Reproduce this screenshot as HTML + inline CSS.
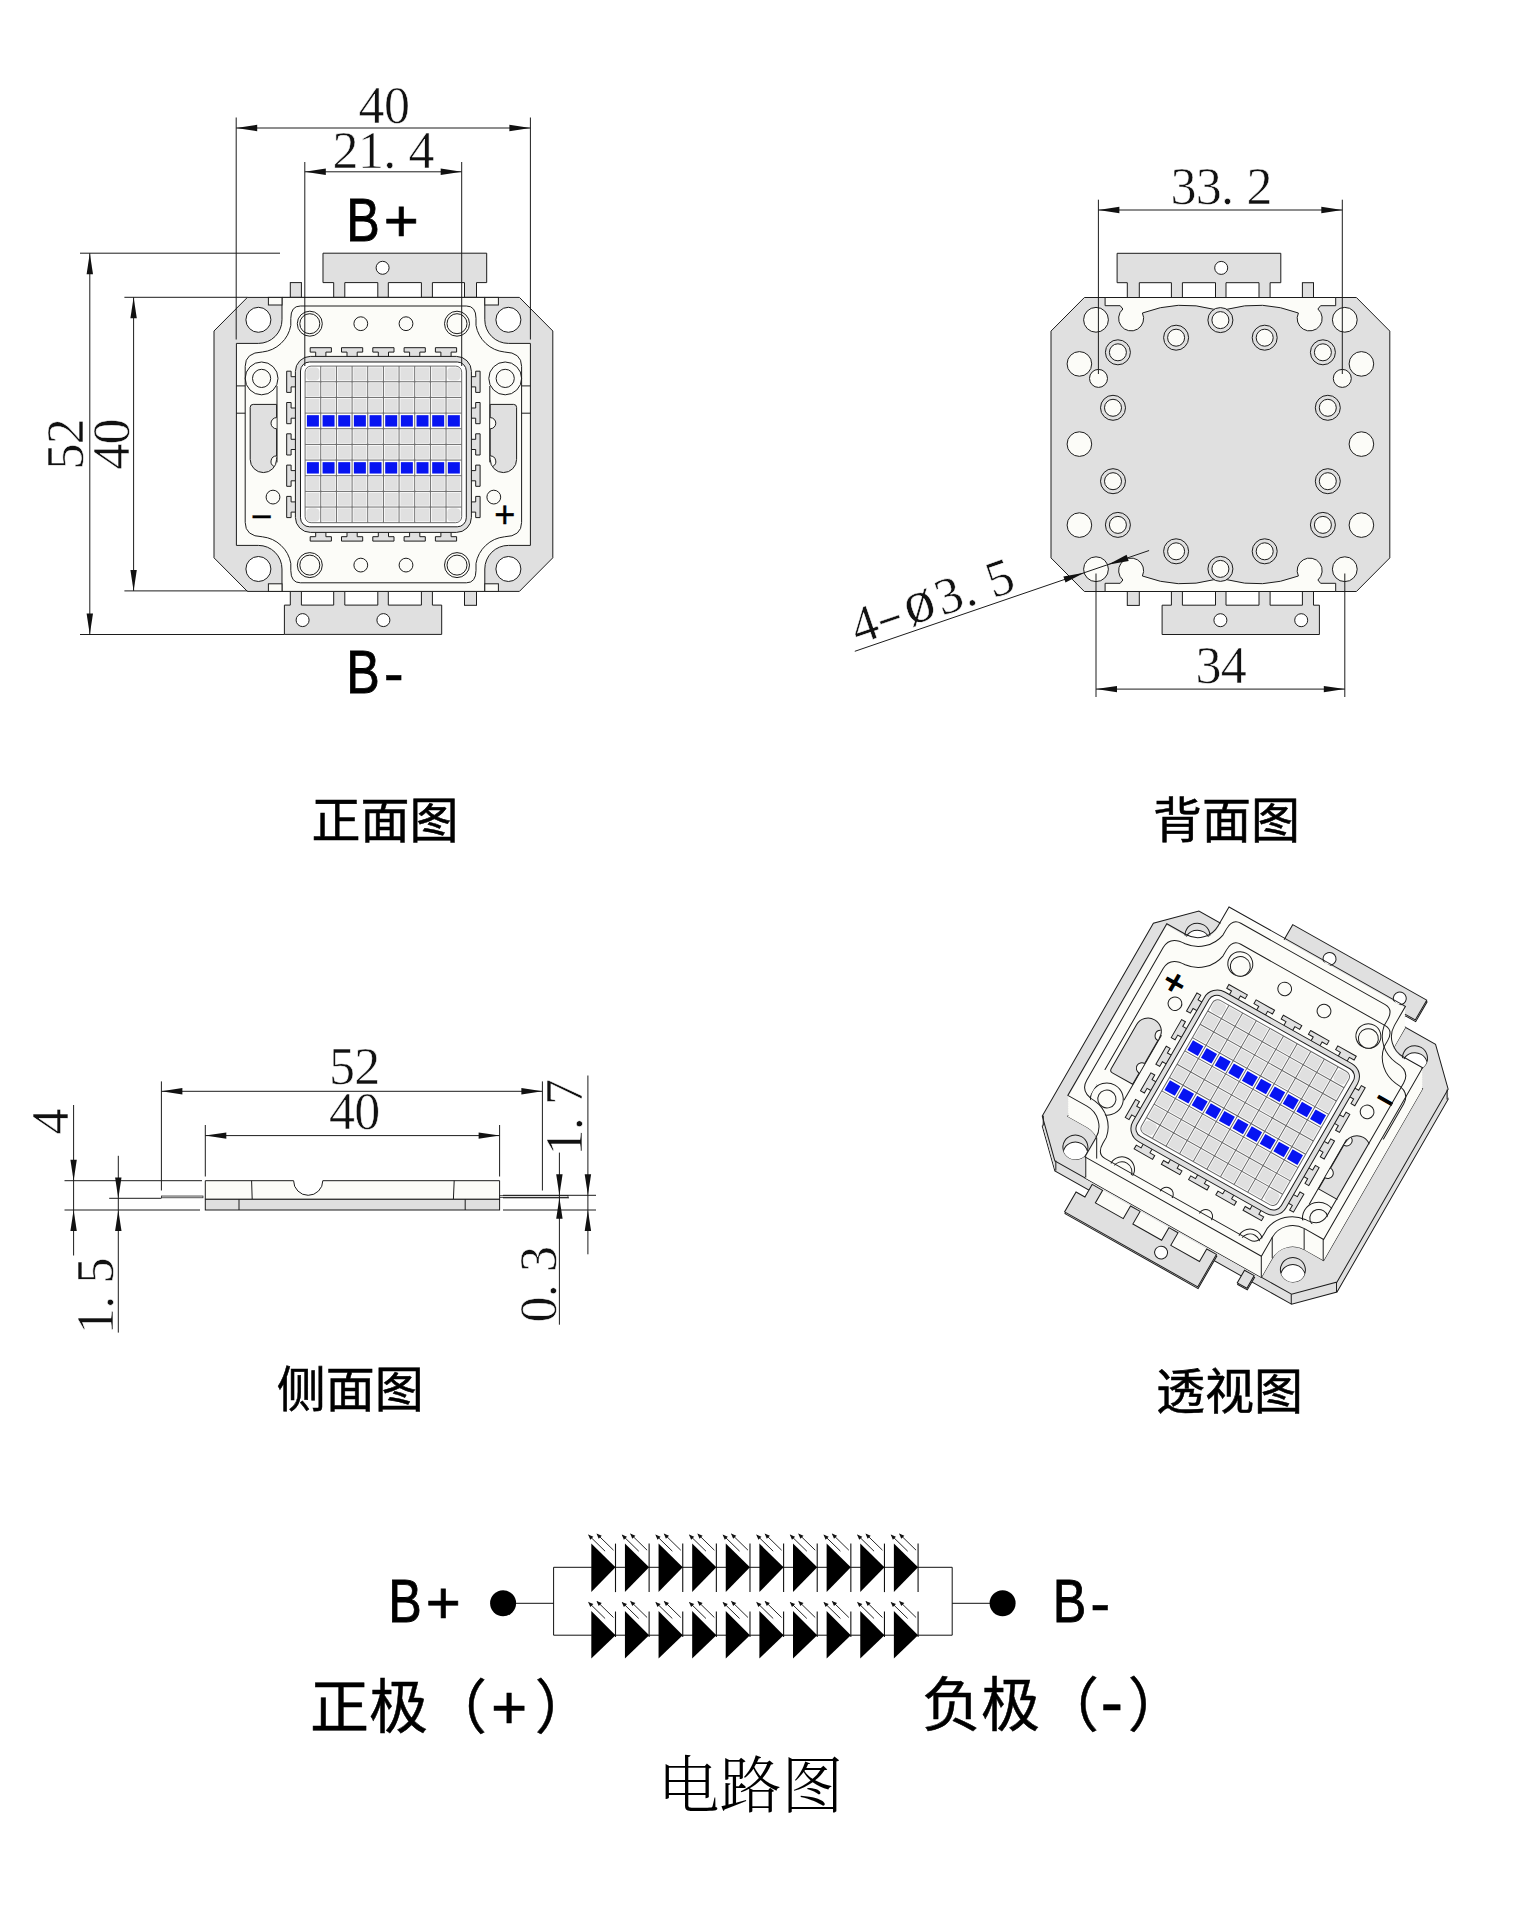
<!DOCTYPE html>
<html lang="zh"><head><meta charset="utf-8"><title>LED COB drawing</title>
<style>html,body{margin:0;padding:0;background:#fff}svg{display:block}</style></head>
<body>
<svg width="1517" height="1920" viewBox="0 0 1517 1920">
<rect width="1517" height="1920" fill="#fff"/>
<defs>
<g id="chiptabs">
<polygon points="-60.4,-191.2 103.3,-191.2 103.3,-161.8 93.1,-161.8 93.1,-147 81.1,-147 81.1,-161.8 49,-161.8 49,-147 38,-147 38,-161.8 4.9,-161.8 4.9,-147 -5.6,-147 -5.6,-161.8 -38.6,-161.8 -38.6,-147 -49.7,-147 -49.7,-161.8 -60.4,-161.8" fill="#e0e0e0" stroke="#1c1c1c" stroke-width="1" />
<circle cx="-0.8" cy="-176.6" r="6.5" fill="#fff" stroke="#1c1c1c" stroke-width="1"/>
<rect x="-93.1" y="-161.8" width="11.1" height="14.8" fill="#e0e0e0" stroke="#1c1c1c" stroke-width="1"/>
<polygon points="-99,190 58.3,190 58.3,160.7 49,160.7 49,147 38,147 38,160.7 4.9,160.7 4.9,147 -5.6,147 -5.6,160.7 -38.6,160.7 -38.6,147 -49.7,147 -49.7,160.7 -82,160.7 -82,147 -93.1,147 -93.1,160.7 -99,160.7" fill="#e0e0e0" stroke="#1c1c1c" stroke-width="1" />
<circle cx="-80.8" cy="175.7" r="6.5" fill="#fff" stroke="#1c1c1c" stroke-width="1"/>
<circle cx="0" cy="175.7" r="6.5" fill="#fff" stroke="#1c1c1c" stroke-width="1"/>
<rect x="81.1" y="147" width="12" height="13.9" fill="#e0e0e0" stroke="#1c1c1c" stroke-width="1"/>
</g>
<g id="chiptabsP">
<rect x="-49.7" y="-161.8" width="142.8" height="15" fill="#fcfcf8"/>
<polygon points="-49.7,-185.2 103.3,-185.2 103.3,-161.8 93.1,-161.8 93.1,-147 81.1,-147 81.1,-161.8 49,-161.8 49,-147 38,-147 38,-161.8 4.9,-161.8 4.9,-147 -5.6,-147 -5.6,-161.8 -38.6,-161.8 -38.6,-147 -49.7,-147 -49.7,-161.8 -49.7,-161.8" fill="#e0e0e0" stroke="#1c1c1c" stroke-width="1" />
<circle cx="-0.8" cy="-173" r="6.5" fill="#fff" stroke="#1c1c1c" stroke-width="1"/>
<rect x="-93.1" y="-161.8" width="11.1" height="14.8" fill="#e0e0e0" stroke="#1c1c1c" stroke-width="1"/>
<polygon points="-105,184 49,184 49,160.7 49,160.7 49,147 38,147 38,160.7 4.9,160.7 4.9,147 -5.6,147 -5.6,160.7 -38.6,160.7 -38.6,147 -49.7,147 -49.7,160.7 -82,160.7 -82,147 -93.1,147 -93.1,160.7 -105,160.7" fill="#e0e0e0" stroke="#1c1c1c" stroke-width="1" />
<circle cx="-80.8" cy="172.1" r="6.5" fill="#fff" stroke="#1c1c1c" stroke-width="1"/>
<circle cx="0" cy="172.1" r="6.5" fill="#fff" stroke="#1c1c1c" stroke-width="1"/>
<rect x="81.1" y="147" width="12" height="13.9" fill="#e0e0e0" stroke="#1c1c1c" stroke-width="1"/>
</g>
<g id="chipbase">
<polygon points="-136,-147 136,-147 169.4,-113.4 169.4,113.4 136,147 -136,147 -169.4,113.4 -169.4,-113.4" fill="#e0e0e0" stroke="#1c1c1c" stroke-width="1" />
</g>
<g id="chipframe">
<path d="M-101.4 -147 H101.4 V-124.6 A23.6 23.6 0 0 0 125 -101 H147 V101 H125 A23.6 23.6 0 0 0 101.4 124.6 V147 H-101.4 V124.6 A23.6 23.6 0 0 0 -125 101 H-147 V-101 H-125 A23.6 23.6 0 0 0 -101.4 -124.6 Z" fill="#fcfcf8" stroke="#1c1c1c" stroke-width="1" />
<rect x="-115" y="-147" width="13.6" height="7.6" fill="#fcfcf8" stroke="#1c1c1c" stroke-width="1"/>
<rect x="-115" y="139.4" width="13.6" height="7.6" fill="#fcfcf8" stroke="#1c1c1c" stroke-width="1"/>
<rect x="101.4" y="-147" width="13.6" height="7.6" fill="#fcfcf8" stroke="#1c1c1c" stroke-width="1"/>
<rect x="101.4" y="139.4" width="13.6" height="7.6" fill="#fcfcf8" stroke="#1c1c1c" stroke-width="1"/>
</g>
<g id="chipholes">
<circle cx="-125" cy="-124.6" r="12.5" fill="#fff" stroke="#1c1c1c" stroke-width="1"/>
<circle cx="-125" cy="124.6" r="12.5" fill="#fff" stroke="#1c1c1c" stroke-width="1"/>
<circle cx="125" cy="-124.6" r="12.5" fill="#fff" stroke="#1c1c1c" stroke-width="1"/>
<circle cx="125" cy="124.6" r="12.5" fill="#fff" stroke="#1c1c1c" stroke-width="1"/>
</g>
<g id="chipinner">
<path d="M-83 -138.4 L83 -138.4 Q92.6 -138.4 92.6 -126 L92.6 -119 A32.5 32.5 0 0 0 121 -92.4 Q138.2 -92 138.2 -78 L138.2 78 Q138.2 92 121 92.4 A32.5 32.5 0 0 0 92.6 119 L92.6 126 Q92.6 138.4 83 138.4 L-83 138.4 Q-92.6 138.4 -92.6 126 L-92.6 119 A32.5 32.5 0 0 0 -121 92.4 Q-138.2 92 -138.2 78 L-138.2 -78 Q-138.2 -92 -121 -92.4 A32.5 32.5 0 0 0 -92.6 -119 L-92.6 -126 Q-92.6 -138.4 -83 -138.4 Z" fill="none" stroke="#1c1c1c" stroke-width="1" />
</g>
<g id="chipfloor">
<circle cx="-73.6" cy="-120.7" r="12.5" fill="#fcfcf8" stroke="#1c1c1c" stroke-width="1"/>
<circle cx="-73.6" cy="-120.7" r="10" fill="#fcfcf8" stroke="#1c1c1c" stroke-width="1"/>
<circle cx="-22.6" cy="-120.7" r="6.9" fill="#fcfcf8" stroke="#1c1c1c" stroke-width="1"/>
<circle cx="73.6" cy="-120.7" r="12.5" fill="#fcfcf8" stroke="#1c1c1c" stroke-width="1"/>
<circle cx="73.6" cy="-120.7" r="10" fill="#fcfcf8" stroke="#1c1c1c" stroke-width="1"/>
<circle cx="22.6" cy="-120.7" r="6.9" fill="#fcfcf8" stroke="#1c1c1c" stroke-width="1"/>
<circle cx="-73.6" cy="120.7" r="12.5" fill="#fcfcf8" stroke="#1c1c1c" stroke-width="1"/>
<circle cx="-73.6" cy="120.7" r="10" fill="#fcfcf8" stroke="#1c1c1c" stroke-width="1"/>
<circle cx="-22.6" cy="120.7" r="6.9" fill="#fcfcf8" stroke="#1c1c1c" stroke-width="1"/>
<circle cx="73.6" cy="120.7" r="12.5" fill="#fcfcf8" stroke="#1c1c1c" stroke-width="1"/>
<circle cx="73.6" cy="120.7" r="10" fill="#fcfcf8" stroke="#1c1c1c" stroke-width="1"/>
<circle cx="22.6" cy="120.7" r="6.9" fill="#fcfcf8" stroke="#1c1c1c" stroke-width="1"/>
<circle cx="-121.8" cy="-66" r="16.4" fill="none" stroke="#1c1c1c" stroke-width="1"/>
<circle cx="-121.8" cy="-66" r="9.1" fill="#fcfcf8" stroke="#1c1c1c" stroke-width="1"/>
<line x1="-106.4" y1="-58.5" x2="-106.4" y2="18" stroke="#1c1c1c" stroke-width="1"/>
<line x1="-147" y1="-58.5" x2="-138.2" y2="-58.5" stroke="#1c1c1c" stroke-width="1"/>
<line x1="-147" y1="-31.2" x2="-138.2" y2="-31.2" stroke="#1c1c1c" stroke-width="1"/>
<path d="M-130.2 -40 H-106.8 V15 A13.2 13.2 0 0 1 -133.2 15 V-37 Q-133.2 -40 -130.2 -40 Z" fill="#e0e0e0" stroke="#1c1c1c" stroke-width="1" />
<path d="M-106.8 -26.8 A5.6 5.6 0 0 0 -106.8 -15.6" fill="#fcfcf8" stroke="#1c1c1c" stroke-width="1" />
<path d="M-106.8 11.5 A5.6 5.6 0 0 0 -109.5 22" fill="#fcfcf8" stroke="#1c1c1c" stroke-width="1" />
<circle cx="-110.4" cy="52.7" r="6.9" fill="#fcfcf8" stroke="#1c1c1c" stroke-width="1"/>
<g transform="scale(-1 1)">
<circle cx="-121.8" cy="-66" r="16.4" fill="none" stroke="#1c1c1c" stroke-width="1"/>
<circle cx="-121.8" cy="-66" r="9.1" fill="#fcfcf8" stroke="#1c1c1c" stroke-width="1"/>
<line x1="-106.4" y1="-58.5" x2="-106.4" y2="18" stroke="#1c1c1c" stroke-width="1"/>
<line x1="-147" y1="-58.5" x2="-138.2" y2="-58.5" stroke="#1c1c1c" stroke-width="1"/>
<line x1="-147" y1="-31.2" x2="-138.2" y2="-31.2" stroke="#1c1c1c" stroke-width="1"/>
<path d="M-130.2 -40 H-106.8 V15 A13.2 13.2 0 0 1 -133.2 15 V-37 Q-133.2 -40 -130.2 -40 Z" fill="#e0e0e0" stroke="#1c1c1c" stroke-width="1" />
<path d="M-106.8 -26.8 A5.6 5.6 0 0 0 -106.8 -15.6" fill="#fcfcf8" stroke="#1c1c1c" stroke-width="1" />
<path d="M-106.8 11.5 A5.6 5.6 0 0 0 -109.5 22" fill="#fcfcf8" stroke="#1c1c1c" stroke-width="1" />
<circle cx="-110.4" cy="52.7" r="6.9" fill="#fcfcf8" stroke="#1c1c1c" stroke-width="1"/>
</g>
<text x="-121.8" y="84.2" text-anchor="middle" font-family="'Liberation Sans', sans-serif" font-size="37" fill="#000" stroke="#000" stroke-width="0.3">&#8722;</text>
<text x="121.4" y="83.1" text-anchor="middle" font-family="'Liberation Sans', sans-serif" font-size="36" fill="#000" stroke="#000" stroke-width="0.45">+</text>
</g>
<g id="chipled">
<polygon transform="translate(-62.6 -88) rotate(0)" points="-10.6,-8.7 10.6,-8.7 10.6,-4.3 5.1,-4.3 5.1,0.6 -5.1,0.6 -5.1,-4.3 -10.6,-4.3" fill="#e0e0e0" stroke="#1c1c1c" stroke-width="1"/>
<polygon transform="translate(-62.6 88) rotate(180)" points="-10.6,-8.7 10.6,-8.7 10.6,-4.3 5.1,-4.3 5.1,0.6 -5.1,0.6 -5.1,-4.3 -10.6,-4.3" fill="#e0e0e0" stroke="#1c1c1c" stroke-width="1"/>
<polygon transform="translate(-88 -62.6) rotate(-90)" points="-10.6,-8.7 10.6,-8.7 10.6,-4.3 5.1,-4.3 5.1,0.6 -5.1,0.6 -5.1,-4.3 -10.6,-4.3" fill="#e0e0e0" stroke="#1c1c1c" stroke-width="1"/>
<polygon transform="translate(88 -62.6) rotate(90)" points="-10.6,-8.7 10.6,-8.7 10.6,-4.3 5.1,-4.3 5.1,0.6 -5.1,0.6 -5.1,-4.3 -10.6,-4.3" fill="#e0e0e0" stroke="#1c1c1c" stroke-width="1"/>
<polygon transform="translate(-31.3 -88) rotate(0)" points="-10.6,-8.7 10.6,-8.7 10.6,-4.3 5.1,-4.3 5.1,0.6 -5.1,0.6 -5.1,-4.3 -10.6,-4.3" fill="#e0e0e0" stroke="#1c1c1c" stroke-width="1"/>
<polygon transform="translate(-31.3 88) rotate(180)" points="-10.6,-8.7 10.6,-8.7 10.6,-4.3 5.1,-4.3 5.1,0.6 -5.1,0.6 -5.1,-4.3 -10.6,-4.3" fill="#e0e0e0" stroke="#1c1c1c" stroke-width="1"/>
<polygon transform="translate(-88 -31.3) rotate(-90)" points="-10.6,-8.7 10.6,-8.7 10.6,-4.3 5.1,-4.3 5.1,0.6 -5.1,0.6 -5.1,-4.3 -10.6,-4.3" fill="#e0e0e0" stroke="#1c1c1c" stroke-width="1"/>
<polygon transform="translate(88 -31.3) rotate(90)" points="-10.6,-8.7 10.6,-8.7 10.6,-4.3 5.1,-4.3 5.1,0.6 -5.1,0.6 -5.1,-4.3 -10.6,-4.3" fill="#e0e0e0" stroke="#1c1c1c" stroke-width="1"/>
<polygon transform="translate(0 -88) rotate(0)" points="-10.6,-8.7 10.6,-8.7 10.6,-4.3 5.1,-4.3 5.1,0.6 -5.1,0.6 -5.1,-4.3 -10.6,-4.3" fill="#e0e0e0" stroke="#1c1c1c" stroke-width="1"/>
<polygon transform="translate(0 88) rotate(180)" points="-10.6,-8.7 10.6,-8.7 10.6,-4.3 5.1,-4.3 5.1,0.6 -5.1,0.6 -5.1,-4.3 -10.6,-4.3" fill="#e0e0e0" stroke="#1c1c1c" stroke-width="1"/>
<polygon transform="translate(-88 0) rotate(-90)" points="-10.6,-8.7 10.6,-8.7 10.6,-4.3 5.1,-4.3 5.1,0.6 -5.1,0.6 -5.1,-4.3 -10.6,-4.3" fill="#e0e0e0" stroke="#1c1c1c" stroke-width="1"/>
<polygon transform="translate(88 0) rotate(90)" points="-10.6,-8.7 10.6,-8.7 10.6,-4.3 5.1,-4.3 5.1,0.6 -5.1,0.6 -5.1,-4.3 -10.6,-4.3" fill="#e0e0e0" stroke="#1c1c1c" stroke-width="1"/>
<polygon transform="translate(31.3 -88) rotate(0)" points="-10.6,-8.7 10.6,-8.7 10.6,-4.3 5.1,-4.3 5.1,0.6 -5.1,0.6 -5.1,-4.3 -10.6,-4.3" fill="#e0e0e0" stroke="#1c1c1c" stroke-width="1"/>
<polygon transform="translate(31.3 88) rotate(180)" points="-10.6,-8.7 10.6,-8.7 10.6,-4.3 5.1,-4.3 5.1,0.6 -5.1,0.6 -5.1,-4.3 -10.6,-4.3" fill="#e0e0e0" stroke="#1c1c1c" stroke-width="1"/>
<polygon transform="translate(-88 31.3) rotate(-90)" points="-10.6,-8.7 10.6,-8.7 10.6,-4.3 5.1,-4.3 5.1,0.6 -5.1,0.6 -5.1,-4.3 -10.6,-4.3" fill="#e0e0e0" stroke="#1c1c1c" stroke-width="1"/>
<polygon transform="translate(88 31.3) rotate(90)" points="-10.6,-8.7 10.6,-8.7 10.6,-4.3 5.1,-4.3 5.1,0.6 -5.1,0.6 -5.1,-4.3 -10.6,-4.3" fill="#e0e0e0" stroke="#1c1c1c" stroke-width="1"/>
<polygon transform="translate(62.6 -88) rotate(0)" points="-10.6,-8.7 10.6,-8.7 10.6,-4.3 5.1,-4.3 5.1,0.6 -5.1,0.6 -5.1,-4.3 -10.6,-4.3" fill="#e0e0e0" stroke="#1c1c1c" stroke-width="1"/>
<polygon transform="translate(62.6 88) rotate(180)" points="-10.6,-8.7 10.6,-8.7 10.6,-4.3 5.1,-4.3 5.1,0.6 -5.1,0.6 -5.1,-4.3 -10.6,-4.3" fill="#e0e0e0" stroke="#1c1c1c" stroke-width="1"/>
<polygon transform="translate(-88 62.6) rotate(-90)" points="-10.6,-8.7 10.6,-8.7 10.6,-4.3 5.1,-4.3 5.1,0.6 -5.1,0.6 -5.1,-4.3 -10.6,-4.3" fill="#e0e0e0" stroke="#1c1c1c" stroke-width="1"/>
<polygon transform="translate(88 62.6) rotate(90)" points="-10.6,-8.7 10.6,-8.7 10.6,-4.3 5.1,-4.3 5.1,0.6 -5.1,0.6 -5.1,-4.3 -10.6,-4.3" fill="#e0e0e0" stroke="#1c1c1c" stroke-width="1"/>
<rect x="-88" y="-88" width="176" height="176" fill="#e0e0e0" stroke="#1c1c1c" stroke-width="1" rx="15"/>
<rect x="-82.9" y="-82.4" width="165.8" height="164.8" fill="#fff" stroke="#1c1c1c" stroke-width="1" rx="9"/>
<rect x="-78.3" y="-78.3" width="156.6" height="156.6" fill="#fff" stroke="#686868" stroke-width="1" rx="6"/>
<rect x="-77" y="-77" width="13.06" height="13.06" fill="#e0e0e0" rx="4"/>
<rect x="-61.34" y="-77" width="13.06" height="13.06" fill="#e0e0e0"/>
<rect x="-45.68" y="-77" width="13.06" height="13.06" fill="#e0e0e0"/>
<rect x="-30.02" y="-77" width="13.06" height="13.06" fill="#e0e0e0"/>
<rect x="-14.36" y="-77" width="13.06" height="13.06" fill="#e0e0e0"/>
<rect x="1.3" y="-77" width="13.06" height="13.06" fill="#e0e0e0"/>
<rect x="16.96" y="-77" width="13.06" height="13.06" fill="#e0e0e0"/>
<rect x="32.62" y="-77" width="13.06" height="13.06" fill="#e0e0e0"/>
<rect x="48.28" y="-77" width="13.06" height="13.06" fill="#e0e0e0"/>
<rect x="63.94" y="-77" width="13.06" height="13.06" fill="#e0e0e0" rx="4"/>
<rect x="-77" y="-61.34" width="13.06" height="13.06" fill="#e0e0e0"/>
<rect x="-61.34" y="-61.34" width="13.06" height="13.06" fill="#e0e0e0"/>
<rect x="-45.68" y="-61.34" width="13.06" height="13.06" fill="#e0e0e0"/>
<rect x="-30.02" y="-61.34" width="13.06" height="13.06" fill="#e0e0e0"/>
<rect x="-14.36" y="-61.34" width="13.06" height="13.06" fill="#e0e0e0"/>
<rect x="1.3" y="-61.34" width="13.06" height="13.06" fill="#e0e0e0"/>
<rect x="16.96" y="-61.34" width="13.06" height="13.06" fill="#e0e0e0"/>
<rect x="32.62" y="-61.34" width="13.06" height="13.06" fill="#e0e0e0"/>
<rect x="48.28" y="-61.34" width="13.06" height="13.06" fill="#e0e0e0"/>
<rect x="63.94" y="-61.34" width="13.06" height="13.06" fill="#e0e0e0"/>
<rect x="-77" y="-45.68" width="13.06" height="13.06" fill="#e0e0e0"/>
<rect x="-61.34" y="-45.68" width="13.06" height="13.06" fill="#e0e0e0"/>
<rect x="-45.68" y="-45.68" width="13.06" height="13.06" fill="#e0e0e0"/>
<rect x="-30.02" y="-45.68" width="13.06" height="13.06" fill="#e0e0e0"/>
<rect x="-14.36" y="-45.68" width="13.06" height="13.06" fill="#e0e0e0"/>
<rect x="1.3" y="-45.68" width="13.06" height="13.06" fill="#e0e0e0"/>
<rect x="16.96" y="-45.68" width="13.06" height="13.06" fill="#e0e0e0"/>
<rect x="32.62" y="-45.68" width="13.06" height="13.06" fill="#e0e0e0"/>
<rect x="48.28" y="-45.68" width="13.06" height="13.06" fill="#e0e0e0"/>
<rect x="63.94" y="-45.68" width="13.06" height="13.06" fill="#e0e0e0"/>
<rect x="-76.5" y="-29.22" width="12" height="11.4" fill="#0714f2"/>
<rect x="-60.84" y="-29.22" width="12" height="11.4" fill="#0714f2"/>
<rect x="-45.18" y="-29.22" width="12" height="11.4" fill="#0714f2"/>
<rect x="-29.52" y="-29.22" width="12" height="11.4" fill="#0714f2"/>
<rect x="-13.86" y="-29.22" width="12" height="11.4" fill="#0714f2"/>
<rect x="1.8" y="-29.22" width="12" height="11.4" fill="#0714f2"/>
<rect x="17.46" y="-29.22" width="12" height="11.4" fill="#0714f2"/>
<rect x="33.12" y="-29.22" width="12" height="11.4" fill="#0714f2"/>
<rect x="48.78" y="-29.22" width="12" height="11.4" fill="#0714f2"/>
<rect x="64.44" y="-29.22" width="12" height="11.4" fill="#0714f2"/>
<rect x="-77" y="-14.36" width="13.06" height="13.06" fill="#e0e0e0"/>
<rect x="-61.34" y="-14.36" width="13.06" height="13.06" fill="#e0e0e0"/>
<rect x="-45.68" y="-14.36" width="13.06" height="13.06" fill="#e0e0e0"/>
<rect x="-30.02" y="-14.36" width="13.06" height="13.06" fill="#e0e0e0"/>
<rect x="-14.36" y="-14.36" width="13.06" height="13.06" fill="#e0e0e0"/>
<rect x="1.3" y="-14.36" width="13.06" height="13.06" fill="#e0e0e0"/>
<rect x="16.96" y="-14.36" width="13.06" height="13.06" fill="#e0e0e0"/>
<rect x="32.62" y="-14.36" width="13.06" height="13.06" fill="#e0e0e0"/>
<rect x="48.28" y="-14.36" width="13.06" height="13.06" fill="#e0e0e0"/>
<rect x="63.94" y="-14.36" width="13.06" height="13.06" fill="#e0e0e0"/>
<rect x="-77" y="1.3" width="13.06" height="13.06" fill="#e0e0e0"/>
<rect x="-61.34" y="1.3" width="13.06" height="13.06" fill="#e0e0e0"/>
<rect x="-45.68" y="1.3" width="13.06" height="13.06" fill="#e0e0e0"/>
<rect x="-30.02" y="1.3" width="13.06" height="13.06" fill="#e0e0e0"/>
<rect x="-14.36" y="1.3" width="13.06" height="13.06" fill="#e0e0e0"/>
<rect x="1.3" y="1.3" width="13.06" height="13.06" fill="#e0e0e0"/>
<rect x="16.96" y="1.3" width="13.06" height="13.06" fill="#e0e0e0"/>
<rect x="32.62" y="1.3" width="13.06" height="13.06" fill="#e0e0e0"/>
<rect x="48.28" y="1.3" width="13.06" height="13.06" fill="#e0e0e0"/>
<rect x="63.94" y="1.3" width="13.06" height="13.06" fill="#e0e0e0"/>
<rect x="-76.5" y="17.76" width="12" height="11.4" fill="#0714f2"/>
<rect x="-60.84" y="17.76" width="12" height="11.4" fill="#0714f2"/>
<rect x="-45.18" y="17.76" width="12" height="11.4" fill="#0714f2"/>
<rect x="-29.52" y="17.76" width="12" height="11.4" fill="#0714f2"/>
<rect x="-13.86" y="17.76" width="12" height="11.4" fill="#0714f2"/>
<rect x="1.8" y="17.76" width="12" height="11.4" fill="#0714f2"/>
<rect x="17.46" y="17.76" width="12" height="11.4" fill="#0714f2"/>
<rect x="33.12" y="17.76" width="12" height="11.4" fill="#0714f2"/>
<rect x="48.78" y="17.76" width="12" height="11.4" fill="#0714f2"/>
<rect x="64.44" y="17.76" width="12" height="11.4" fill="#0714f2"/>
<rect x="-77" y="32.62" width="13.06" height="13.06" fill="#e0e0e0"/>
<rect x="-61.34" y="32.62" width="13.06" height="13.06" fill="#e0e0e0"/>
<rect x="-45.68" y="32.62" width="13.06" height="13.06" fill="#e0e0e0"/>
<rect x="-30.02" y="32.62" width="13.06" height="13.06" fill="#e0e0e0"/>
<rect x="-14.36" y="32.62" width="13.06" height="13.06" fill="#e0e0e0"/>
<rect x="1.3" y="32.62" width="13.06" height="13.06" fill="#e0e0e0"/>
<rect x="16.96" y="32.62" width="13.06" height="13.06" fill="#e0e0e0"/>
<rect x="32.62" y="32.62" width="13.06" height="13.06" fill="#e0e0e0"/>
<rect x="48.28" y="32.62" width="13.06" height="13.06" fill="#e0e0e0"/>
<rect x="63.94" y="32.62" width="13.06" height="13.06" fill="#e0e0e0"/>
<rect x="-77" y="48.28" width="13.06" height="13.06" fill="#e0e0e0"/>
<rect x="-61.34" y="48.28" width="13.06" height="13.06" fill="#e0e0e0"/>
<rect x="-45.68" y="48.28" width="13.06" height="13.06" fill="#e0e0e0"/>
<rect x="-30.02" y="48.28" width="13.06" height="13.06" fill="#e0e0e0"/>
<rect x="-14.36" y="48.28" width="13.06" height="13.06" fill="#e0e0e0"/>
<rect x="1.3" y="48.28" width="13.06" height="13.06" fill="#e0e0e0"/>
<rect x="16.96" y="48.28" width="13.06" height="13.06" fill="#e0e0e0"/>
<rect x="32.62" y="48.28" width="13.06" height="13.06" fill="#e0e0e0"/>
<rect x="48.28" y="48.28" width="13.06" height="13.06" fill="#e0e0e0"/>
<rect x="63.94" y="48.28" width="13.06" height="13.06" fill="#e0e0e0"/>
<rect x="-77" y="63.94" width="13.06" height="13.06" fill="#e0e0e0" rx="4"/>
<rect x="-61.34" y="63.94" width="13.06" height="13.06" fill="#e0e0e0"/>
<rect x="-45.68" y="63.94" width="13.06" height="13.06" fill="#e0e0e0"/>
<rect x="-30.02" y="63.94" width="13.06" height="13.06" fill="#e0e0e0"/>
<rect x="-14.36" y="63.94" width="13.06" height="13.06" fill="#e0e0e0"/>
<rect x="1.3" y="63.94" width="13.06" height="13.06" fill="#e0e0e0"/>
<rect x="16.96" y="63.94" width="13.06" height="13.06" fill="#e0e0e0"/>
<rect x="32.62" y="63.94" width="13.06" height="13.06" fill="#e0e0e0"/>
<rect x="48.28" y="63.94" width="13.06" height="13.06" fill="#e0e0e0"/>
<rect x="63.94" y="63.94" width="13.06" height="13.06" fill="#e0e0e0" rx="4"/>
<path d="M-62.64 -78.3V78.3 M-78.3 -62.64H78.3 M-46.98 -78.3V78.3 M-78.3 -46.98H78.3 M-31.32 -78.3V78.3 M-78.3 -31.32H78.3 M-15.66 -78.3V78.3 M-78.3 -15.66H78.3 M0 -78.3V78.3 M-78.3 0H78.3 M15.66 -78.3V78.3 M-78.3 15.66H78.3 M31.32 -78.3V78.3 M-78.3 31.32H78.3 M46.98 -78.3V78.3 M-78.3 46.98H78.3 M62.64 -78.3V78.3 M-78.3 62.64H78.3 " fill="none" stroke="#686868" stroke-width="1" />
</g>
<path id="chipoct" d="M-136 -147 L136 -147 L169.4 -113.4 L169.4 113.4 L136 147 L-136 147 L-169.4 113.4 L-169.4 -113.4 Z"/>
<path id="chipfrm" d="M-101.4 -147 H101.4 V-124.6 A23.6 23.6 0 0 0 125 -101 H147 V101 H125 A23.6 23.6 0 0 0 101.4 124.6 V147 H-101.4 V124.6 A23.6 23.6 0 0 0 -125 101 H-147 V-101 H-125 A23.6 23.6 0 0 0 -101.4 -124.6 Z"/>
<path id="chipring" fill-rule="evenodd" d="M-101.4 -147 H101.4 V-124.6 A23.6 23.6 0 0 0 125 -101 H147 V101 H125 A23.6 23.6 0 0 0 101.4 124.6 V147 H-101.4 V124.6 A23.6 23.6 0 0 0 -125 101 H-147 V-101 H-125 A23.6 23.6 0 0 0 -101.4 -124.6 Z M-83 -138.4 L83 -138.4 Q92.6 -138.4 92.6 -126 L92.6 -119 A32.5 32.5 0 0 0 121 -92.4 Q138.2 -92 138.2 -78 L138.2 78 Q138.2 92 121 92.4 A32.5 32.5 0 0 0 92.6 119 L92.6 126 Q92.6 138.4 83 138.4 L-83 138.4 Q-92.6 138.4 -92.6 126 L-92.6 119 A32.5 32.5 0 0 0 -121 92.4 Q-138.2 92 -138.2 78 L-138.2 -78 Q-138.2 -92 -121 -92.4 A32.5 32.5 0 0 0 -92.6 -119 L-92.6 -126 Q-92.6 -138.4 -83 -138.4 Z"/>
<path id="chipinn" d="M-83 -138.4 L83 -138.4 Q92.6 -138.4 92.6 -126 L92.6 -119 A32.5 32.5 0 0 0 121 -92.4 Q138.2 -92 138.2 -78 L138.2 78 Q138.2 92 121 92.4 A32.5 32.5 0 0 0 92.6 119 L92.6 126 Q92.6 138.4 83 138.4 L-83 138.4 Q-92.6 138.4 -92.6 126 L-92.6 119 A32.5 32.5 0 0 0 -121 92.4 Q-138.2 92 -138.2 78 L-138.2 -78 Q-138.2 -92 -121 -92.4 A32.5 32.5 0 0 0 -92.6 -119 L-92.6 -126 Q-92.6 -138.4 -83 -138.4 Z"/>
</defs>
<g id="frontview">
<use href="#chiptabs" x="383.4" y="444.4"/>
<use href="#chipbase" x="383.4" y="444.4"/>
<use href="#chipframe" x="383.4" y="444.4"/>
<use href="#chipholes" x="383.4" y="444.4"/>
<use href="#chipinner" x="383.4" y="444.4"/>
<use href="#chipfloor" x="383.4" y="444.4"/>
<use href="#chipled" x="383.4" y="444.4"/>
<line x1="236.2" y1="117.5" x2="236.2" y2="339.5" stroke="#1c1c1c" stroke-width="1"/>
<line x1="530.4" y1="117.5" x2="530.4" y2="339.5" stroke="#1c1c1c" stroke-width="1"/>
<line x1="236.2" y1="128" x2="530.4" y2="128" stroke="#1c1c1c" stroke-width="1"/>
<polygon points="236.2,128 257.2,124.8 257.2,131.2" fill="#111"/>
<polygon points="530.4,128 509.4,131.2 509.4,124.8" fill="#111"/>
<text transform="translate(358.6 122.8) rotate(0)" x="0 25.3" y="0" font-family="'Liberation Serif', serif" font-size="52" fill="#111" stroke="#fff" stroke-width="0.55">40</text>
<line x1="304.8" y1="162" x2="304.8" y2="366" stroke="#1c1c1c" stroke-width="1"/>
<line x1="461.7" y1="162" x2="461.7" y2="366" stroke="#1c1c1c" stroke-width="1"/>
<line x1="304.8" y1="171.8" x2="461.7" y2="171.8" stroke="#1c1c1c" stroke-width="1"/>
<polygon points="304.8,171.8 325.8,168.6 325.8,175" fill="#111"/>
<polygon points="461.7,171.8 440.7,175 440.7,168.6" fill="#111"/>
<text transform="translate(332.6 167.6) rotate(0)" x="0 25.3 50.6 75.9" y="0" font-family="'Liberation Serif', serif" font-size="52" fill="#111" stroke="#fff" stroke-width="0.55">21.4</text>
<line x1="80" y1="253.2" x2="280" y2="253.2" stroke="#1c1c1c" stroke-width="1"/>
<line x1="80" y1="634.5" x2="284.4" y2="634.5" stroke="#1c1c1c" stroke-width="1"/>
<line x1="89.8" y1="253.2" x2="89.8" y2="634.5" stroke="#1c1c1c" stroke-width="1"/>
<polygon points="89.8,253.2 93,274.2 86.6,274.2" fill="#111"/>
<polygon points="89.8,634.5 86.6,613.5 93,613.5" fill="#111"/>
<text transform="translate(83.4 469.6) rotate(-90)" x="0 25.3" y="0" font-family="'Liberation Serif', serif" font-size="52" fill="#111" stroke="#fff" stroke-width="0.55">52</text>
<line x1="124.4" y1="297.3" x2="247.5" y2="297.3" stroke="#1c1c1c" stroke-width="1"/>
<line x1="124.4" y1="590.9" x2="247.5" y2="590.9" stroke="#1c1c1c" stroke-width="1"/>
<line x1="133.6" y1="297.3" x2="133.6" y2="590.9" stroke="#1c1c1c" stroke-width="1"/>
<polygon points="133.6,297.3 136.8,318.3 130.4,318.3" fill="#111"/>
<polygon points="133.6,590.9 130.4,569.9 136.8,569.9" fill="#111"/>
<text transform="translate(128.7 469.8) rotate(-90)" x="0 25.3" y="0" font-family="'Liberation Serif', serif" font-size="52" fill="#111" stroke="#fff" stroke-width="0.55">40</text>
<text transform="translate(346.2 240.6) scale(0.82 1)" font-family="'Liberation Sans', sans-serif" font-size="61.3" fill="#000" stroke="#000" stroke-width="0.9">B</text><text x="383.7" y="241.2" font-family="'Liberation Sans', sans-serif" font-size="60" fill="#000" stroke="#000" stroke-width="0.7">+</text>
<text transform="translate(346.2 692.6) scale(0.82 1)" font-family="'Liberation Sans', sans-serif" font-size="61.3" fill="#000" stroke="#000" stroke-width="0.9">B</text><text x="383.7" y="693.2" font-family="'Liberation Sans', sans-serif" font-size="60" fill="#000" stroke="#000" stroke-width="0.5">-</text>
</g>
<g id="backview">
<use href="#chiptabs" transform="translate(1220.4 444.5) scale(-1 1)"/>
<g transform="translate(1220.4 444.5)">
<polygon points="-136,-147 136,-147 169.4,-113.4 169.4,113.4 136,147 -136,147 -169.4,113.4 -169.4,-113.4" fill="#e0e0e0" stroke="#1c1c1c" stroke-width="1" />
<path d="M-115.3 -147 H115.3 V-138.8 H100.2 L97.5 -135.5 A12.5 12.5 0 1 1 78 -131.5 Q42 -145 6.5 -135.2 L-6.5 -135.2 Q-42 -145 -78 -131.5 A12.5 12.5 0 1 1 -97.5 -135.5 L-100.2 -138.8 H-115.3 Z" fill="#fcfcf8" stroke="#1c1c1c" stroke-width="1" />
<path d="M-115.3 147 H115.3 V138.8 H100.2 L97.5 135.5 A12.5 12.5 0 1 0 78 131.5 Q42 145 6.5 135.2 L-6.5 135.2 Q-42 145 -78 131.5 A12.5 12.5 0 1 0 -97.5 135.5 L-100.2 138.8 H-115.3 Z" fill="#fcfcf8" stroke="#1c1c1c" stroke-width="1" />
<circle cx="0" cy="-124.4" r="12.5" fill="#e0e0e0" stroke="#1c1c1c" stroke-width="1"/>
<circle cx="0" cy="-124.4" r="8.5" fill="#fcfcf8" stroke="#1c1c1c" stroke-width="1"/>
<circle cx="0" cy="124.4" r="12.5" fill="#e0e0e0" stroke="#1c1c1c" stroke-width="1"/>
<circle cx="0" cy="124.4" r="8.5" fill="#fcfcf8" stroke="#1c1c1c" stroke-width="1"/>
<circle cx="-124.4" cy="-124.7" r="12.4" fill="#fcfcf8" stroke="#1c1c1c" stroke-width="1"/>
<circle cx="-141" cy="-80.6" r="12.3" fill="#fcfcf8" stroke="#1c1c1c" stroke-width="1"/>
<circle cx="-44.3" cy="-106.8" r="12.5" fill="#e0e0e0" stroke="#1c1c1c" stroke-width="1"/>
<circle cx="-44.3" cy="-106.8" r="8.5" fill="#fcfcf8" stroke="#1c1c1c" stroke-width="1"/>
<circle cx="-107.4" cy="-36.7" r="12.5" fill="#e0e0e0" stroke="#1c1c1c" stroke-width="1"/>
<circle cx="-107.4" cy="-36.7" r="8.5" fill="#fcfcf8" stroke="#1c1c1c" stroke-width="1"/>
<circle cx="-124.4" cy="124.7" r="12.4" fill="#fcfcf8" stroke="#1c1c1c" stroke-width="1"/>
<circle cx="-141" cy="80.6" r="12.3" fill="#fcfcf8" stroke="#1c1c1c" stroke-width="1"/>
<circle cx="-44.3" cy="106.8" r="12.5" fill="#e0e0e0" stroke="#1c1c1c" stroke-width="1"/>
<circle cx="-44.3" cy="106.8" r="8.5" fill="#fcfcf8" stroke="#1c1c1c" stroke-width="1"/>
<circle cx="-107.4" cy="36.7" r="12.5" fill="#e0e0e0" stroke="#1c1c1c" stroke-width="1"/>
<circle cx="-107.4" cy="36.7" r="8.5" fill="#fcfcf8" stroke="#1c1c1c" stroke-width="1"/>
<circle cx="-141" cy="-0.4" r="12.3" fill="#fcfcf8" stroke="#1c1c1c" stroke-width="1"/>
<circle cx="-121.9" cy="-66.1" r="9" fill="#fcfcf8" stroke="#1c1c1c" stroke-width="1"/>
<circle cx="-102.5" cy="-92.2" r="12.5" fill="#e0e0e0" stroke="#1c1c1c" stroke-width="1"/>
<circle cx="-102.5" cy="-92.2" r="8.5" fill="#fcfcf8" stroke="#1c1c1c" stroke-width="1"/>
<circle cx="-102.5" cy="80.4" r="12.5" fill="#e0e0e0" stroke="#1c1c1c" stroke-width="1"/>
<circle cx="-102.5" cy="80.4" r="8.5" fill="#fcfcf8" stroke="#1c1c1c" stroke-width="1"/>
<circle cx="124.4" cy="-124.7" r="12.4" fill="#fcfcf8" stroke="#1c1c1c" stroke-width="1"/>
<circle cx="141" cy="-80.6" r="12.3" fill="#fcfcf8" stroke="#1c1c1c" stroke-width="1"/>
<circle cx="44.3" cy="-106.8" r="12.5" fill="#e0e0e0" stroke="#1c1c1c" stroke-width="1"/>
<circle cx="44.3" cy="-106.8" r="8.5" fill="#fcfcf8" stroke="#1c1c1c" stroke-width="1"/>
<circle cx="107.4" cy="-36.7" r="12.5" fill="#e0e0e0" stroke="#1c1c1c" stroke-width="1"/>
<circle cx="107.4" cy="-36.7" r="8.5" fill="#fcfcf8" stroke="#1c1c1c" stroke-width="1"/>
<circle cx="124.4" cy="124.7" r="12.4" fill="#fcfcf8" stroke="#1c1c1c" stroke-width="1"/>
<circle cx="141" cy="80.6" r="12.3" fill="#fcfcf8" stroke="#1c1c1c" stroke-width="1"/>
<circle cx="44.3" cy="106.8" r="12.5" fill="#e0e0e0" stroke="#1c1c1c" stroke-width="1"/>
<circle cx="44.3" cy="106.8" r="8.5" fill="#fcfcf8" stroke="#1c1c1c" stroke-width="1"/>
<circle cx="107.4" cy="36.7" r="12.5" fill="#e0e0e0" stroke="#1c1c1c" stroke-width="1"/>
<circle cx="107.4" cy="36.7" r="8.5" fill="#fcfcf8" stroke="#1c1c1c" stroke-width="1"/>
<circle cx="141" cy="-0.4" r="12.3" fill="#fcfcf8" stroke="#1c1c1c" stroke-width="1"/>
<circle cx="121.9" cy="-66.1" r="9" fill="#fcfcf8" stroke="#1c1c1c" stroke-width="1"/>
<circle cx="102.5" cy="-92.2" r="12.5" fill="#e0e0e0" stroke="#1c1c1c" stroke-width="1"/>
<circle cx="102.5" cy="-92.2" r="8.5" fill="#fcfcf8" stroke="#1c1c1c" stroke-width="1"/>
<circle cx="102.5" cy="80.4" r="12.5" fill="#e0e0e0" stroke="#1c1c1c" stroke-width="1"/>
<circle cx="102.5" cy="80.4" r="8.5" fill="#fcfcf8" stroke="#1c1c1c" stroke-width="1"/>
</g>
<line x1="1098.4" y1="199.7" x2="1098.4" y2="374" stroke="#1c1c1c" stroke-width="1"/>
<line x1="1342.3" y1="199.7" x2="1342.3" y2="374" stroke="#1c1c1c" stroke-width="1"/>
<line x1="1098.4" y1="210" x2="1342.3" y2="210" stroke="#1c1c1c" stroke-width="1"/>
<polygon points="1098.4,210 1119.4,206.8 1119.4,213.2" fill="#111"/>
<polygon points="1342.3,210 1321.3,213.2 1321.3,206.8" fill="#111"/>
<text transform="translate(1170.5 203.5) rotate(0)" x="0 25.3 50.6 75.9" y="0" font-family="'Liberation Serif', serif" font-size="52" fill="#111" stroke="#fff" stroke-width="0.55">33.2</text>
<line x1="1096" y1="573.5" x2="1096" y2="697" stroke="#1c1c1c" stroke-width="1"/>
<line x1="1344.8" y1="573.5" x2="1344.8" y2="697" stroke="#1c1c1c" stroke-width="1"/>
<line x1="1096" y1="689.1" x2="1344.8" y2="689.1" stroke="#1c1c1c" stroke-width="1"/>
<polygon points="1096,689.1 1117,685.9 1117,692.3" fill="#111"/>
<polygon points="1344.8,689.1 1323.8,692.3 1323.8,685.9" fill="#111"/>
<text transform="translate(1195.5 682.6) rotate(0)" x="0 25.3" y="0" font-family="'Liberation Serif', serif" font-size="52" fill="#111" stroke="#fff" stroke-width="0.55">34</text>
<line x1="854.8" y1="651.3" x2="1149.1" y2="550.5" stroke="#1c1c1c" stroke-width="1"/>
<polygon points="1084.3,572.7 1065.47,582.53 1063.4,576.48" fill="#111"/>
<polygon points="1107.8,564.7 1126.63,554.87 1128.7,560.92" fill="#111"/>
<g transform="translate(853.5 646.2) rotate(-18.91)" font-family="'Liberation Serif', serif" font-size="52" fill="#111" stroke="#fff" stroke-width="0.55">
<text x="4.2" y="0">4</text>
<text transform="translate(29.5 -3.5) scale(1.55 0.8)" x="0" y="0">-</text>
<text x="60" y="-1" font-size="61">&#248;</text>
<text x="93.5 120 147.5" y="0">3.5</text>
</g>
</g>
<g id="sideview">
<rect x="161.4" y="1196" width="41.6" height="1.8" fill="#e0e0e0" stroke="#1c1c1c" stroke-width="0.7"/>
<rect x="499.6" y="1195.6" width="68.4" height="1.8" fill="#e0e0e0" stroke="#1c1c1c" stroke-width="0.7"/>
<path d="M205.3 1180.7 H293.6 A14.6 14.6 0 0 0 322.8 1180.7 H499.6 V1199.3 H205.3 Z" fill="#fcfcf8" stroke="#1c1c1c" stroke-width="1" />
<line x1="251.6" y1="1180.7" x2="252.2" y2="1199.3" stroke="#1c1c1c" stroke-width="1"/>
<line x1="454.2" y1="1180.7" x2="453.4" y2="1199.3" stroke="#1c1c1c" stroke-width="1"/>
<rect x="205.3" y="1199.3" width="294.3" height="10.7" fill="#e0e0e0" stroke="#1c1c1c" stroke-width="1"/>
<line x1="239" y1="1199.3" x2="239" y2="1210" stroke="#1c1c1c" stroke-width="1"/>
<line x1="465.2" y1="1199.3" x2="465.2" y2="1210" stroke="#1c1c1c" stroke-width="1"/>
<line x1="161.4" y1="1081.4" x2="161.4" y2="1190.5" stroke="#1c1c1c" stroke-width="1"/>
<line x1="542.4" y1="1081.4" x2="542.4" y2="1190.5" stroke="#1c1c1c" stroke-width="1"/>
<line x1="161.4" y1="1091.3" x2="542.4" y2="1091.3" stroke="#1c1c1c" stroke-width="1"/>
<polygon points="161.4,1091.3 182.4,1088.1 182.4,1094.5" fill="#111"/>
<polygon points="542.4,1091.3 521.4,1094.5 521.4,1088.1" fill="#111"/>
<text transform="translate(329 1084.4) rotate(0)" x="0 25.3" y="0" font-family="'Liberation Serif', serif" font-size="52" fill="#111" stroke="#fff" stroke-width="0.55">52</text>
<line x1="205.3" y1="1125" x2="205.3" y2="1176.5" stroke="#1c1c1c" stroke-width="1"/>
<line x1="499.6" y1="1125" x2="499.6" y2="1176.5" stroke="#1c1c1c" stroke-width="1"/>
<line x1="205.3" y1="1135.6" x2="499.6" y2="1135.6" stroke="#1c1c1c" stroke-width="1"/>
<polygon points="205.3,1135.6 226.3,1132.4 226.3,1138.8" fill="#111"/>
<polygon points="499.6,1135.6 478.6,1138.8 478.6,1132.4" fill="#111"/>
<text transform="translate(329 1129) rotate(0)" x="0 25.3" y="0" font-family="'Liberation Serif', serif" font-size="52" fill="#111" stroke="#fff" stroke-width="0.55">40</text>
<line x1="64.5" y1="1180.7" x2="202" y2="1180.7" stroke="#1c1c1c" stroke-width="1"/>
<line x1="64.5" y1="1210" x2="200" y2="1210" stroke="#1c1c1c" stroke-width="1"/>
<line x1="73.6" y1="1105" x2="73.6" y2="1255.5" stroke="#1c1c1c" stroke-width="1"/>
<polygon points="73.6,1180.7 70.4,1159.7 76.8,1159.7" fill="#111"/>
<polygon points="73.6,1210 76.8,1231 70.4,1231" fill="#111"/>
<text transform="translate(68.4 1134.5) rotate(-90)" x="0" y="0" font-family="'Liberation Serif', serif" font-size="52" fill="#111" stroke="#fff" stroke-width="0.55">4</text>
<line x1="109.2" y1="1198.3" x2="161.4" y2="1198.3" stroke="#1c1c1c" stroke-width="1"/>
<line x1="118.3" y1="1155.8" x2="118.3" y2="1332.6" stroke="#1c1c1c" stroke-width="1"/>
<polygon points="118.3,1198.6 115.1,1177.6 121.5,1177.6" fill="#111"/>
<polygon points="118.3,1210 121.5,1231 115.1,1231" fill="#111"/>
<text transform="translate(113.2 1334) rotate(-90)" x="0 25.3 50.6" y="0" font-family="'Liberation Serif', serif" font-size="52" fill="#111" stroke="#fff" stroke-width="0.55">1.5</text>
<line x1="503" y1="1195.3" x2="596" y2="1195.3" stroke="#1c1c1c" stroke-width="1"/>
<line x1="503" y1="1197.8" x2="569" y2="1197.8" stroke="#1c1c1c" stroke-width="1"/>
<line x1="503" y1="1210" x2="596" y2="1210" stroke="#1c1c1c" stroke-width="1"/>
<line x1="587.9" y1="1075.5" x2="587.9" y2="1254.3" stroke="#1c1c1c" stroke-width="1"/>
<polygon points="587.9,1195.3 584.7,1174.3 591.1,1174.3" fill="#111"/>
<polygon points="587.9,1210 591.1,1231 584.7,1231" fill="#111"/>
<text transform="translate(582 1155.5) rotate(-90)" x="0 25.3 50.6" y="0" font-family="'Liberation Serif', serif" font-size="52" fill="#111" stroke="#fff" stroke-width="0.55">1.7</text>
<line x1="559.4" y1="1152.6" x2="559.4" y2="1324.7" stroke="#1c1c1c" stroke-width="1"/>
<polygon points="559.4,1195.3 556.2,1174.3 562.6,1174.3" fill="#111"/>
<polygon points="559.4,1197.8 562.6,1218.8 556.2,1218.8" fill="#111"/>
<text transform="translate(556.2 1322.5) rotate(-90)" x="0 25.3 50.6" y="0" font-family="'Liberation Serif', serif" font-size="52" fill="#111" stroke="#fff" stroke-width="0.55">0.3</text>
</g>
<g id="perspview">
<use href="#chipoct" transform="matrix(-0.87 -0.49 0.49 -0.85 1245.2 1112.6)" fill="#e0e0e0" stroke="#1c1c1c" stroke-width="1"/>
<use href="#chipoct" transform="matrix(-0.87 -0.49 0.49 -0.85 1245.2 1110.6)" fill="#e0e0e0" stroke="none"/>
<use href="#chipoct" transform="matrix(-0.87 -0.49 0.49 -0.85 1245.2 1108.6)" fill="#e0e0e0" stroke="none"/>
<use href="#chipoct" transform="matrix(-0.87 -0.49 0.49 -0.85 1245.2 1106.6)" fill="#e0e0e0" stroke="none"/>
<use href="#chipoct" transform="matrix(-0.87 -0.49 0.49 -0.85 1245.2 1104.6)" fill="#e0e0e0" stroke="none"/>
<use href="#chiptabsP" transform="matrix(-0.87 -0.49 0.49 -0.85 1245.6 1106.8)"/>
<use href="#chiptabsP" transform="matrix(-0.87 -0.49 0.49 -0.85 1245.2 1105.1)"/>
<use href="#chipoct" transform="matrix(-0.87 -0.49 0.49 -0.85 1245.2 1102.6)" fill="#e0e0e0" stroke="#1c1c1c" stroke-width="1"/>
<line x1="1291.25" y1="1294.22" x2="1291.25" y2="1304.22" stroke="#1c1c1c" stroke-width="1"/>
<line x1="1055.83" y1="1160.59" x2="1055.83" y2="1170.59" stroke="#1c1c1c" stroke-width="1"/>
<line x1="1043.3" y1="1115.65" x2="1043.3" y2="1125.65" stroke="#1c1c1c" stroke-width="1"/>
<line x1="1447.1" y1="1089.55" x2="1447.1" y2="1099.55" stroke="#1c1c1c" stroke-width="1"/>
<line x1="1336.53" y1="1282.1" x2="1336.53" y2="1292.1" stroke="#1c1c1c" stroke-width="1"/>
<clipPath id="pholeclip">
<circle cx="-125" cy="-124.6" r="12.5"/>
<circle cx="-125" cy="124.6" r="12.5"/>
<circle cx="125" cy="-124.6" r="12.5"/>
<circle cx="125" cy="124.6" r="12.5"/>
</clipPath>
<g transform="matrix(-0.87 -0.49 0.49 -0.85 1245.2 1102.6)">
<circle cx="-125" cy="-124.6" r="12.5" fill="#e0e0e0" stroke="#1c1c1c" stroke-width="1"/>
<circle cx="-125" cy="124.6" r="12.5" fill="#e0e0e0" stroke="#1c1c1c" stroke-width="1"/>
<circle cx="125" cy="-124.6" r="12.5" fill="#e0e0e0" stroke="#1c1c1c" stroke-width="1"/>
<circle cx="125" cy="124.6" r="12.5" fill="#e0e0e0" stroke="#1c1c1c" stroke-width="1"/>
<g clip-path="url(#pholeclip)">
<circle cx="-128.5" cy="-130.82" r="12.5" fill="#fff" stroke="#1c1c1c" stroke-width="1"/>
<circle cx="-128.5" cy="118.38" r="12.5" fill="#fff" stroke="#1c1c1c" stroke-width="1"/>
<circle cx="121.5" cy="-130.82" r="12.5" fill="#fff" stroke="#1c1c1c" stroke-width="1"/>
<circle cx="121.5" cy="118.38" r="12.5" fill="#fff" stroke="#1c1c1c" stroke-width="1"/>
</g>
</g>
<use href="#chipfrm" transform="matrix(-0.87 -0.49 0.49 -0.85 1245.2 1102.6)" fill="#fcfcf8" stroke="#1c1c1c" stroke-width="1"/>
<g transform="matrix(-0.87 -0.49 0.49 -0.85 1245.2 1102.6)">
<circle cx="-73.6" cy="-120.7" r="12.5" fill="#fcfcf8" stroke="#1c1c1c" stroke-width="1"/>
<circle cx="-74.8" cy="-122.9" r="10" fill="#fcfcf8" stroke="#1c1c1c" stroke-width="1"/>
<circle cx="-22.6" cy="-120.7" r="6.9" fill="#fcfcf8" stroke="#1c1c1c" stroke-width="1"/>
<circle cx="73.6" cy="-120.7" r="12.5" fill="#fcfcf8" stroke="#1c1c1c" stroke-width="1"/>
<circle cx="72.4" cy="-122.9" r="10" fill="#fcfcf8" stroke="#1c1c1c" stroke-width="1"/>
<circle cx="22.6" cy="-120.7" r="6.9" fill="#fcfcf8" stroke="#1c1c1c" stroke-width="1"/>
<circle cx="-73.6" cy="120.7" r="12.5" fill="#fcfcf8" stroke="#1c1c1c" stroke-width="1"/>
<circle cx="-74.8" cy="118.5" r="10" fill="#fcfcf8" stroke="#1c1c1c" stroke-width="1"/>
<circle cx="-22.6" cy="120.7" r="6.9" fill="#fcfcf8" stroke="#1c1c1c" stroke-width="1"/>
<circle cx="73.6" cy="120.7" r="12.5" fill="#fcfcf8" stroke="#1c1c1c" stroke-width="1"/>
<circle cx="72.4" cy="118.5" r="10" fill="#fcfcf8" stroke="#1c1c1c" stroke-width="1"/>
<circle cx="22.6" cy="120.7" r="6.9" fill="#fcfcf8" stroke="#1c1c1c" stroke-width="1"/>
<circle cx="-121.8" cy="-66" r="16.4" fill="none" stroke="#1c1c1c" stroke-width="1"/>
<circle cx="-121.8" cy="-66" r="9.1" fill="#fcfcf8" stroke="#1c1c1c" stroke-width="1"/>
<line x1="-106.4" y1="-58.5" x2="-106.4" y2="18" stroke="#1c1c1c" stroke-width="1"/>
<line x1="-147" y1="-58.5" x2="-138.2" y2="-58.5" stroke="#1c1c1c" stroke-width="1"/>
<line x1="-147" y1="-31.2" x2="-138.2" y2="-31.2" stroke="#1c1c1c" stroke-width="1"/>
<path d="M-130.2 -40 H-106.8 V15 A13.2 13.2 0 0 1 -133.2 15 V-37 Q-133.2 -40 -130.2 -40 Z" fill="#e0e0e0" stroke="#1c1c1c" stroke-width="1" />
<path d="M-106.8 -26.8 A5.6 5.6 0 0 0 -106.8 -15.6" fill="#fcfcf8" stroke="#1c1c1c" stroke-width="1" />
<path d="M-106.8 11.5 A5.6 5.6 0 0 0 -109.5 22" fill="#fcfcf8" stroke="#1c1c1c" stroke-width="1" />
<circle cx="-110.4" cy="52.7" r="6.9" fill="#fcfcf8" stroke="#1c1c1c" stroke-width="1"/>
<g transform="scale(-1 1)">
<circle cx="-121.8" cy="-66" r="16.4" fill="none" stroke="#1c1c1c" stroke-width="1"/>
<circle cx="-121.8" cy="-66" r="9.1" fill="#fcfcf8" stroke="#1c1c1c" stroke-width="1"/>
<line x1="-106.4" y1="-58.5" x2="-106.4" y2="18" stroke="#1c1c1c" stroke-width="1"/>
<line x1="-147" y1="-58.5" x2="-138.2" y2="-58.5" stroke="#1c1c1c" stroke-width="1"/>
<line x1="-147" y1="-31.2" x2="-138.2" y2="-31.2" stroke="#1c1c1c" stroke-width="1"/>
<path d="M-130.2 -40 H-106.8 V15 A13.2 13.2 0 0 1 -133.2 15 V-37 Q-133.2 -40 -130.2 -40 Z" fill="#e0e0e0" stroke="#1c1c1c" stroke-width="1" />
<path d="M-106.8 -26.8 A5.6 5.6 0 0 0 -106.8 -15.6" fill="#fcfcf8" stroke="#1c1c1c" stroke-width="1" />
<path d="M-106.8 11.5 A5.6 5.6 0 0 0 -109.5 22" fill="#fcfcf8" stroke="#1c1c1c" stroke-width="1" />
<circle cx="-110.4" cy="52.7" r="6.9" fill="#fcfcf8" stroke="#1c1c1c" stroke-width="1"/>
</g>
<text x="-121.8" y="84.2" text-anchor="middle" font-family="'Liberation Sans', sans-serif" font-size="37" fill="#000" stroke="#000" stroke-width="1.3">&#8722;</text>
<text x="121.4" y="83.1" text-anchor="middle" font-family="'Liberation Sans', sans-serif" font-size="36" fill="#000" stroke="#000" stroke-width="1.3">+</text>
</g>
<use href="#chipled" transform="matrix(-0.87 -0.49 0.49 -0.85 1245.2 1102.6)"/>
<use href="#chipring" transform="matrix(-0.87 -0.49 0.49 -0.85 1245.2 1102.6)" fill="#fcfcf8" stroke="none"/>
<use href="#chipring" transform="matrix(-0.87 -0.49 0.49 -0.85 1245.2 1100.85)" fill="#fcfcf8" stroke="none"/>
<use href="#chipring" transform="matrix(-0.87 -0.49 0.49 -0.85 1245.2 1099.1)" fill="#fcfcf8" stroke="none"/>
<use href="#chipring" transform="matrix(-0.87 -0.49 0.49 -0.85 1245.2 1097.35)" fill="#fcfcf8" stroke="none"/>
<use href="#chipring" transform="matrix(-0.87 -0.49 0.49 -0.85 1245.2 1095.6)" fill="#fcfcf8" stroke="none"/>
<use href="#chipring" transform="matrix(-0.87 -0.49 0.49 -0.85 1245.2 1093.85)" fill="#fcfcf8" stroke="none"/>
<use href="#chipring" transform="matrix(-0.87 -0.49 0.49 -0.85 1245.2 1092.1)" fill="#fcfcf8" stroke="none"/>
<use href="#chipring" transform="matrix(-0.87 -0.49 0.49 -0.85 1245.2 1090.35)" fill="#fcfcf8" stroke="none"/>
<use href="#chipring" transform="matrix(-0.87 -0.49 0.49 -0.85 1245.2 1088.6)" fill="#fcfcf8" stroke="none"/>
<use href="#chipring" transform="matrix(-0.87 -0.49 0.49 -0.85 1245.2 1086.85)" fill="#fcfcf8" stroke="none"/>
<use href="#chipring" transform="matrix(-0.87 -0.49 0.49 -0.85 1245.2 1085.1)" fill="#fcfcf8" stroke="none"/>
<use href="#chipring" transform="matrix(-0.87 -0.49 0.49 -0.85 1245.2 1083.35)" fill="#fcfcf8" stroke="none"/>
<clipPath id="pfarclip"><polygon points="1000,880 1500,880 1500,1075 1394.53,1142.33 1093.44,1067.11 1000,1130"/></clipPath>
<g clip-path="url(#pfarclip)"><use href="#chipinn" transform="matrix(-0.87 -0.49 0.49 -0.85 1245.2 1102.6)" fill="none" stroke="#1c1c1c" stroke-width="1"/></g>
<line x1="1261.3" y1="1277.22" x2="1261.3" y2="1256.22" stroke="#1c1c1c" stroke-width="1"/>
<line x1="1085.78" y1="1177.59" x2="1085.78" y2="1156.59" stroke="#1c1c1c" stroke-width="1"/>
<line x1="1096.7" y1="1158.57" x2="1096.7" y2="1137.57" stroke="#1c1c1c" stroke-width="1"/>
<line x1="1323.19" y1="1260.57" x2="1323.19" y2="1239.57" stroke="#1c1c1c" stroke-width="1"/>
<line x1="1304.15" y1="1249.76" x2="1304.15" y2="1228.76" stroke="#1c1c1c" stroke-width="1"/>
<line x1="1272.22" y1="1258.2" x2="1272.22" y2="1237.2" stroke="#1c1c1c" stroke-width="1"/>
<use href="#chipfrm" transform="matrix(-0.87 -0.49 0.49 -0.85 1245.2 1081.6)" fill="none" stroke="#1c1c1c" stroke-width="1"/>
<use href="#chipinn" transform="matrix(-0.87 -0.49 0.49 -0.85 1245.2 1081.6)" fill="none" stroke="#1c1c1c" stroke-width="1"/>
</g>
<g id="circuit">
<line x1="503" y1="1603.3" x2="553.6" y2="1603.3" stroke="#111" stroke-width="1"/>
<line x1="952.2" y1="1603.3" x2="1003" y2="1603.3" stroke="#111" stroke-width="1"/>
<circle cx="503.1" cy="1603.3" r="13" fill="#000" stroke="none" stroke-width="1"/>
<circle cx="1002.6" cy="1603.3" r="13" fill="#000" stroke="none" stroke-width="1"/>
<path d="M591.3 1567.3 H553.6 V1635.2 H591.3 M918 1567.3 H952.2 V1635.2 H918" fill="none" stroke="#111" stroke-width="1" />
<line x1="591.3" y1="1567.3" x2="918" y2="1567.3" stroke="#111" stroke-width="1"/>
<line x1="591.3" y1="1635.2" x2="918" y2="1635.2" stroke="#111" stroke-width="1"/>
<polygon points="591.3,1543.6 615.5,1567.3 591.3,1592.1" fill="#000"/>
<line x1="615.5" y1="1543.6" x2="615.5" y2="1592.1" stroke="#111" stroke-width="1.1"/>
<line x1="605.1" y1="1551.2" x2="588.7" y2="1535.2" stroke="#111" stroke-width="0.9"/>
<polygon points="588.1,1534.6 593.36,1536.66 590.29,1539.81" fill="#111"/>
<line x1="613.5" y1="1550.19" x2="597.1" y2="1534.19" stroke="#111" stroke-width="0.9"/>
<polygon points="596.5,1533.59 601.76,1535.65 598.69,1538.8" fill="#111"/>
<polygon points="624.92,1543.6 649.12,1567.3 624.92,1592.1" fill="#000"/>
<line x1="649.12" y1="1543.6" x2="649.12" y2="1592.1" stroke="#111" stroke-width="1.1"/>
<line x1="638.72" y1="1551.2" x2="622.32" y2="1535.2" stroke="#111" stroke-width="0.9"/>
<polygon points="621.72,1534.6 626.98,1536.66 623.91,1539.81" fill="#111"/>
<line x1="647.12" y1="1550.19" x2="630.72" y2="1534.19" stroke="#111" stroke-width="0.9"/>
<polygon points="630.12,1533.59 635.38,1535.65 632.31,1538.8" fill="#111"/>
<polygon points="658.54,1543.6 682.74,1567.3 658.54,1592.1" fill="#000"/>
<line x1="682.74" y1="1543.6" x2="682.74" y2="1592.1" stroke="#111" stroke-width="1.1"/>
<line x1="672.34" y1="1551.2" x2="655.94" y2="1535.2" stroke="#111" stroke-width="0.9"/>
<polygon points="655.34,1534.6 660.6,1536.66 657.53,1539.81" fill="#111"/>
<line x1="680.74" y1="1550.19" x2="664.34" y2="1534.19" stroke="#111" stroke-width="0.9"/>
<polygon points="663.74,1533.59 669,1535.65 665.93,1538.8" fill="#111"/>
<polygon points="692.16,1543.6 716.36,1567.3 692.16,1592.1" fill="#000"/>
<line x1="716.36" y1="1543.6" x2="716.36" y2="1592.1" stroke="#111" stroke-width="1.1"/>
<line x1="705.96" y1="1551.2" x2="689.56" y2="1535.2" stroke="#111" stroke-width="0.9"/>
<polygon points="688.96,1534.6 694.22,1536.66 691.15,1539.81" fill="#111"/>
<line x1="714.36" y1="1550.19" x2="697.96" y2="1534.19" stroke="#111" stroke-width="0.9"/>
<polygon points="697.36,1533.59 702.62,1535.65 699.55,1538.8" fill="#111"/>
<polygon points="725.78,1543.6 749.98,1567.3 725.78,1592.1" fill="#000"/>
<line x1="749.98" y1="1543.6" x2="749.98" y2="1592.1" stroke="#111" stroke-width="1.1"/>
<line x1="739.58" y1="1551.2" x2="723.18" y2="1535.2" stroke="#111" stroke-width="0.9"/>
<polygon points="722.58,1534.6 727.84,1536.66 724.77,1539.81" fill="#111"/>
<line x1="747.98" y1="1550.19" x2="731.58" y2="1534.19" stroke="#111" stroke-width="0.9"/>
<polygon points="730.98,1533.59 736.24,1535.65 733.17,1538.8" fill="#111"/>
<polygon points="759.4,1543.6 783.6,1567.3 759.4,1592.1" fill="#000"/>
<line x1="783.6" y1="1543.6" x2="783.6" y2="1592.1" stroke="#111" stroke-width="1.1"/>
<line x1="773.2" y1="1551.2" x2="756.8" y2="1535.2" stroke="#111" stroke-width="0.9"/>
<polygon points="756.2,1534.6 761.46,1536.66 758.39,1539.81" fill="#111"/>
<line x1="781.6" y1="1550.19" x2="765.2" y2="1534.19" stroke="#111" stroke-width="0.9"/>
<polygon points="764.6,1533.59 769.86,1535.65 766.79,1538.8" fill="#111"/>
<polygon points="793.02,1543.6 817.22,1567.3 793.02,1592.1" fill="#000"/>
<line x1="817.22" y1="1543.6" x2="817.22" y2="1592.1" stroke="#111" stroke-width="1.1"/>
<line x1="806.82" y1="1551.2" x2="790.42" y2="1535.2" stroke="#111" stroke-width="0.9"/>
<polygon points="789.82,1534.6 795.08,1536.66 792.01,1539.81" fill="#111"/>
<line x1="815.22" y1="1550.19" x2="798.82" y2="1534.19" stroke="#111" stroke-width="0.9"/>
<polygon points="798.22,1533.59 803.48,1535.65 800.41,1538.8" fill="#111"/>
<polygon points="826.64,1543.6 850.84,1567.3 826.64,1592.1" fill="#000"/>
<line x1="850.84" y1="1543.6" x2="850.84" y2="1592.1" stroke="#111" stroke-width="1.1"/>
<line x1="840.44" y1="1551.2" x2="824.04" y2="1535.2" stroke="#111" stroke-width="0.9"/>
<polygon points="823.44,1534.6 828.7,1536.66 825.63,1539.81" fill="#111"/>
<line x1="848.84" y1="1550.19" x2="832.44" y2="1534.19" stroke="#111" stroke-width="0.9"/>
<polygon points="831.84,1533.59 837.1,1535.65 834.03,1538.8" fill="#111"/>
<polygon points="860.26,1543.6 884.46,1567.3 860.26,1592.1" fill="#000"/>
<line x1="884.46" y1="1543.6" x2="884.46" y2="1592.1" stroke="#111" stroke-width="1.1"/>
<line x1="874.06" y1="1551.2" x2="857.66" y2="1535.2" stroke="#111" stroke-width="0.9"/>
<polygon points="857.06,1534.6 862.32,1536.66 859.25,1539.81" fill="#111"/>
<line x1="882.46" y1="1550.19" x2="866.06" y2="1534.19" stroke="#111" stroke-width="0.9"/>
<polygon points="865.46,1533.59 870.72,1535.65 867.65,1538.8" fill="#111"/>
<polygon points="893.88,1543.6 918.08,1567.3 893.88,1592.1" fill="#000"/>
<line x1="918.08" y1="1543.6" x2="918.08" y2="1592.1" stroke="#111" stroke-width="1.1"/>
<line x1="907.68" y1="1551.2" x2="891.28" y2="1535.2" stroke="#111" stroke-width="0.9"/>
<polygon points="890.68,1534.6 895.94,1536.66 892.87,1539.81" fill="#111"/>
<line x1="916.08" y1="1550.19" x2="899.68" y2="1534.19" stroke="#111" stroke-width="0.9"/>
<polygon points="899.08,1533.59 904.34,1535.65 901.27,1538.8" fill="#111"/>
<polygon points="591.3,1610.9 615.5,1635.2 591.3,1658.4" fill="#000"/>
<line x1="615.5" y1="1611.5" x2="615.5" y2="1637" stroke="#111" stroke-width="1.1"/>
<line x1="605.1" y1="1618.5" x2="588.7" y2="1602.5" stroke="#111" stroke-width="0.9"/>
<polygon points="588.1,1601.9 593.36,1603.96 590.29,1607.11" fill="#111"/>
<line x1="613.5" y1="1617.49" x2="597.1" y2="1601.49" stroke="#111" stroke-width="0.9"/>
<polygon points="596.5,1600.89 601.76,1602.95 598.69,1606.1" fill="#111"/>
<polygon points="624.92,1610.9 649.12,1635.2 624.92,1658.4" fill="#000"/>
<line x1="649.12" y1="1611.5" x2="649.12" y2="1637" stroke="#111" stroke-width="1.1"/>
<line x1="638.72" y1="1618.5" x2="622.32" y2="1602.5" stroke="#111" stroke-width="0.9"/>
<polygon points="621.72,1601.9 626.98,1603.96 623.91,1607.11" fill="#111"/>
<line x1="647.12" y1="1617.49" x2="630.72" y2="1601.49" stroke="#111" stroke-width="0.9"/>
<polygon points="630.12,1600.89 635.38,1602.95 632.31,1606.1" fill="#111"/>
<polygon points="658.54,1610.9 682.74,1635.2 658.54,1658.4" fill="#000"/>
<line x1="682.74" y1="1611.5" x2="682.74" y2="1637" stroke="#111" stroke-width="1.1"/>
<line x1="672.34" y1="1618.5" x2="655.94" y2="1602.5" stroke="#111" stroke-width="0.9"/>
<polygon points="655.34,1601.9 660.6,1603.96 657.53,1607.11" fill="#111"/>
<line x1="680.74" y1="1617.49" x2="664.34" y2="1601.49" stroke="#111" stroke-width="0.9"/>
<polygon points="663.74,1600.89 669,1602.95 665.93,1606.1" fill="#111"/>
<polygon points="692.16,1610.9 716.36,1635.2 692.16,1658.4" fill="#000"/>
<line x1="716.36" y1="1611.5" x2="716.36" y2="1637" stroke="#111" stroke-width="1.1"/>
<line x1="705.96" y1="1618.5" x2="689.56" y2="1602.5" stroke="#111" stroke-width="0.9"/>
<polygon points="688.96,1601.9 694.22,1603.96 691.15,1607.11" fill="#111"/>
<line x1="714.36" y1="1617.49" x2="697.96" y2="1601.49" stroke="#111" stroke-width="0.9"/>
<polygon points="697.36,1600.89 702.62,1602.95 699.55,1606.1" fill="#111"/>
<polygon points="725.78,1610.9 749.98,1635.2 725.78,1658.4" fill="#000"/>
<line x1="749.98" y1="1611.5" x2="749.98" y2="1637" stroke="#111" stroke-width="1.1"/>
<line x1="739.58" y1="1618.5" x2="723.18" y2="1602.5" stroke="#111" stroke-width="0.9"/>
<polygon points="722.58,1601.9 727.84,1603.96 724.77,1607.11" fill="#111"/>
<line x1="747.98" y1="1617.49" x2="731.58" y2="1601.49" stroke="#111" stroke-width="0.9"/>
<polygon points="730.98,1600.89 736.24,1602.95 733.17,1606.1" fill="#111"/>
<polygon points="759.4,1610.9 783.6,1635.2 759.4,1658.4" fill="#000"/>
<line x1="783.6" y1="1611.5" x2="783.6" y2="1637" stroke="#111" stroke-width="1.1"/>
<line x1="773.2" y1="1618.5" x2="756.8" y2="1602.5" stroke="#111" stroke-width="0.9"/>
<polygon points="756.2,1601.9 761.46,1603.96 758.39,1607.11" fill="#111"/>
<line x1="781.6" y1="1617.49" x2="765.2" y2="1601.49" stroke="#111" stroke-width="0.9"/>
<polygon points="764.6,1600.89 769.86,1602.95 766.79,1606.1" fill="#111"/>
<polygon points="793.02,1610.9 817.22,1635.2 793.02,1658.4" fill="#000"/>
<line x1="817.22" y1="1611.5" x2="817.22" y2="1637" stroke="#111" stroke-width="1.1"/>
<line x1="806.82" y1="1618.5" x2="790.42" y2="1602.5" stroke="#111" stroke-width="0.9"/>
<polygon points="789.82,1601.9 795.08,1603.96 792.01,1607.11" fill="#111"/>
<line x1="815.22" y1="1617.49" x2="798.82" y2="1601.49" stroke="#111" stroke-width="0.9"/>
<polygon points="798.22,1600.89 803.48,1602.95 800.41,1606.1" fill="#111"/>
<polygon points="826.64,1610.9 850.84,1635.2 826.64,1658.4" fill="#000"/>
<line x1="850.84" y1="1611.5" x2="850.84" y2="1637" stroke="#111" stroke-width="1.1"/>
<line x1="840.44" y1="1618.5" x2="824.04" y2="1602.5" stroke="#111" stroke-width="0.9"/>
<polygon points="823.44,1601.9 828.7,1603.96 825.63,1607.11" fill="#111"/>
<line x1="848.84" y1="1617.49" x2="832.44" y2="1601.49" stroke="#111" stroke-width="0.9"/>
<polygon points="831.84,1600.89 837.1,1602.95 834.03,1606.1" fill="#111"/>
<polygon points="860.26,1610.9 884.46,1635.2 860.26,1658.4" fill="#000"/>
<line x1="884.46" y1="1611.5" x2="884.46" y2="1637" stroke="#111" stroke-width="1.1"/>
<line x1="874.06" y1="1618.5" x2="857.66" y2="1602.5" stroke="#111" stroke-width="0.9"/>
<polygon points="857.06,1601.9 862.32,1603.96 859.25,1607.11" fill="#111"/>
<line x1="882.46" y1="1617.49" x2="866.06" y2="1601.49" stroke="#111" stroke-width="0.9"/>
<polygon points="865.46,1600.89 870.72,1602.95 867.65,1606.1" fill="#111"/>
<polygon points="893.88,1610.9 918.08,1635.2 893.88,1658.4" fill="#000"/>
<line x1="918.08" y1="1611.5" x2="918.08" y2="1637" stroke="#111" stroke-width="1.1"/>
<line x1="907.68" y1="1618.5" x2="891.28" y2="1602.5" stroke="#111" stroke-width="0.9"/>
<polygon points="890.68,1601.9 895.94,1603.96 892.87,1607.11" fill="#111"/>
<line x1="916.08" y1="1617.49" x2="899.68" y2="1601.49" stroke="#111" stroke-width="0.9"/>
<polygon points="899.08,1600.89 904.34,1602.95 901.27,1606.1" fill="#111"/>
<text transform="translate(388.2 1622) scale(0.82 1)" font-family="'Liberation Sans', sans-serif" font-size="61.3" fill="#000" stroke="#000" stroke-width="0.9">B</text><text x="425.7" y="1622.6" font-family="'Liberation Sans', sans-serif" font-size="60" fill="#000" stroke="#000" stroke-width="0.7">+</text>
<text transform="translate(1052.7 1622) scale(0.82 1)" font-family="'Liberation Sans', sans-serif" font-size="61.3" fill="#000" stroke="#000" stroke-width="0.9">B</text><text x="1090.2" y="1622.6" font-family="'Liberation Sans', sans-serif" font-size="60" fill="#000" stroke="#000" stroke-width="0.5">-</text>
<text x="310" y="1728" font-family="'Liberation Sans', 'Noto Sans CJK SC', sans-serif" font-size="59" font-weight="400" fill="#000" stroke="#000" stroke-width="0.5">正极（<tspan dx="4" font-size="62">+</tspan><tspan dx="7.5">）</tspan></text>
<text x="922" y="1726" font-family="'Liberation Sans', 'Noto Sans CJK SC', sans-serif" font-size="59" font-weight="400" fill="#000" stroke="#000" stroke-width="0.5">负极（<tspan dx="1.5" font-size="68">-</tspan><tspan dx="4.5">）</tspan></text>
<text x="657.5" y="1808.3" font-family="'Liberation Serif', 'Noto Serif CJK SC', serif" font-size="62" font-weight="300" fill="#000" >电路图</text>
</g>
<text x="311.4" y="837.6" font-family="'Liberation Sans', 'Noto Sans CJK SC', sans-serif" font-size="49" font-weight="400" fill="#000" stroke="#000" stroke-width="0.55">正面图</text>
<text x="1153" y="837.6" font-family="'Liberation Sans', 'Noto Sans CJK SC', sans-serif" font-size="49" font-weight="400" fill="#000" stroke="#000" stroke-width="0.55">背面图</text>
<text x="276.8" y="1407.2" font-family="'Liberation Sans', 'Noto Sans CJK SC', sans-serif" font-size="49" font-weight="400" fill="#000" stroke="#000" stroke-width="0.55">侧面图</text>
<text x="1156" y="1409.2" font-family="'Liberation Sans', 'Noto Sans CJK SC', sans-serif" font-size="49" font-weight="400" fill="#000" stroke="#000" stroke-width="0.55">透视图</text>
</svg>
</body></html>
